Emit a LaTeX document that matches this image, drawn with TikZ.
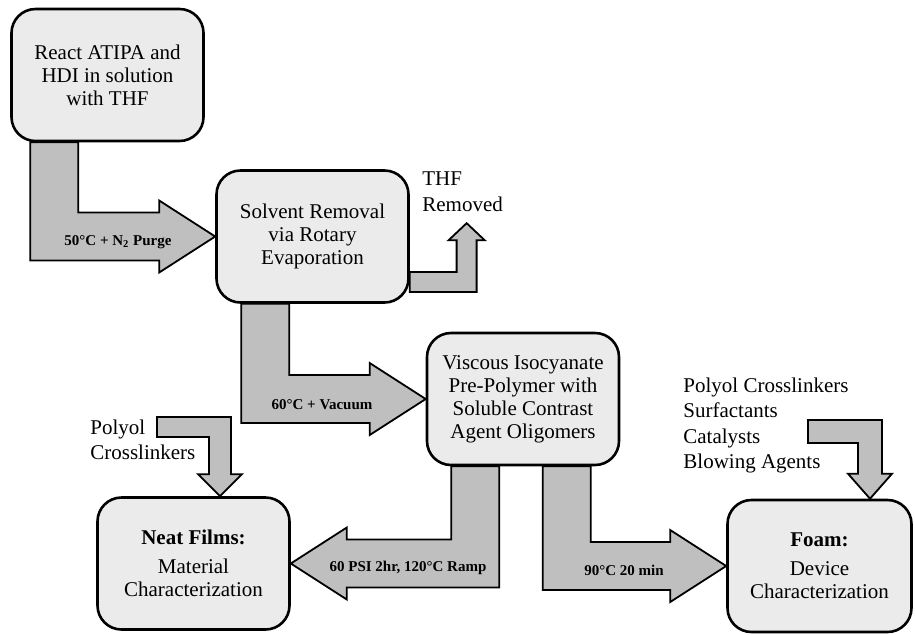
\documentclass[tikz,border=0pt]{standalone}
\usepackage{fontspec}
\setmainfont{Liberation Serif}
\usetikzlibrary{calc,backgrounds}
\pgfdeclarelayer{bg}
\pgfsetlayers{bg,main}

\begin{document}
\begin{tikzpicture}[
  x=0.5pt, y=-0.5pt, % one unit = one pixel of the 915x634 layout
  font=\fontsize{10.5}{11.5}\selectfont,
  box/.style   ={draw,line width=1.3pt,rounded corners=12pt,fill=gray!16,align=center,
                 minimum width=96pt,minimum height=66pt,inner sep=3pt},
  side/.style  ={align=left,inner sep=0pt,font=\fontsize{10.5}{12.8}\selectfont},
  lbl/.style   ={inner sep=0pt,font=\bfseries\fontsize{7.5}{9}\selectfont},
  blockarrow/.style={draw,line width=0.9pt,fill=gray!50,line join=miter}
]

\useasboundingbox (0,0) rectangle (915,634);

% ==================================================
% PROCESS BOXES
% ==================================================
\node[box] (react)   at (107.5,75)  {React ATIPA and\\ HDI in solution\\ with THF};
\node[box] (solvent) at (312.5,236.5) {Solvent Removal\\ via Rotary\\ Evaporation};
\node[box] (prepoly) at (523,399)   {Viscous Isocyanate\\ Pre-Polymer with\\ Soluble Contrast\\ Agent Oligomers};
\node[box] (films)   at (193.5,563.5) {\textbf{Neat Films:}\\[3pt] Material\\ Characterization};
\node[box, minimum width=92pt] (foam) at (819.5,566) {\textbf{Foam:}\\[3pt] Device\\ Characterization};

% side inputs / outputs
\node[side, anchor=west] (thf)     at (422,192) {THF\\ Removed};
\node[side, anchor=west] (polyolA) at (90,440)  {Polyol\\ Crosslinkers};
\node[side, anchor=west] (polyolB) at (683,425.5)
  {Polyol Crosslinkers\\ Surfactants\\ Catalysts\\ Blowing Agents};

% arrow end points
\coordinate (s1) at ($(react.south west)+(44,0)$);
\coordinate (s2) at ($(solvent.south west)+(50,0)$);
\coordinate (s3) at ($(prepoly.south west)+(49.5,0)$);
\coordinate (s4) at ($(prepoly.south east)+(-53.5,0)$);
\coordinate (thfstart) at ($(solvent.east)+(0,45.5)$);
\coordinate (thftip)   at ($(thf.south)+(4,11)$);
\coordinate (pAstart)  at ($(polyolA.west)+(67,-13)$);
\coordinate (pAtip)    at ($(films.north)+(26.5,0)$);
\coordinate (pBstart)  at (808,431.5);
\coordinate (pBtip)    at ($(foam.north)+(50.5,0)$);

% ==================================================
% BLOCK ARROWS (behind the boxes)
% ==================================================
\begin{pgfonlayer}{bg}
  \fill[white] (0,0) rectangle (915,634);
  % down, then right
  \path[blockarrow] let \p1=(s1), \p2=(solvent.west) in
    (\x1-12pt,\y1) -- (\x1-12pt,\y2-12pt) -- (\x2-28pt,\y2-12pt) -- (\x2-28pt,\y2-18pt)
    -- (\x2,\y2) -- (\x2-28pt,\y2+18pt) -- (\x2-28pt,\y2+12pt) -- (\x1+12pt,\y2+12pt)
    -- (\x1+12pt,\y1) -- cycle;
  \path[blockarrow] let \p1=(s2), \p2=(prepoly.west) in
    (\x1-12pt,\y1) -- (\x1-12pt,\y2-12pt) -- (\x2-28pt,\y2-12pt) -- (\x2-28pt,\y2-18pt)
    -- (\x2,\y2) -- (\x2-28pt,\y2+18pt) -- (\x2-28pt,\y2+12pt) -- (\x1+12pt,\y2+12pt)
    -- (\x1+12pt,\y1) -- cycle;
  \path[blockarrow] let \p1=(s4), \p2=(foam.west) in
    (\x1-12pt,\y1) -- (\x1-12pt,\y2-12pt) -- (\x2-28pt,\y2-12pt) -- (\x2-28pt,\y2-18pt)
    -- (\x2,\y2) -- (\x2-28pt,\y2+18pt) -- (\x2-28pt,\y2+12pt) -- (\x1+12pt,\y2+12pt)
    -- (\x1+12pt,\y1) -- cycle;
  % down, then left
  \path[blockarrow] let \p1=(s3), \p2=(films.east) in
    (\x1+12pt,\y1) -- (\x1+12pt,\y2-12pt) -- (\x2+28pt,\y2-12pt) -- (\x2+28pt,\y2-18pt)
    -- (\x2,\y2) -- (\x2+28pt,\y2+18pt) -- (\x2+28pt,\y2+12pt) -- (\x1-12pt,\y2+12pt)
    -- (\x1-12pt,\y1) -- cycle;

  % THF out: right, then up
  \path[blockarrow] let \p1=(thfstart), \p2=(thftip) in
    (\x1,\y1+5pt) -- (\x2-5pt,\y1+5pt) -- (\x2-5pt,\y2-8.5pt) -- (\x2-9pt,\y2-8.5pt)
    -- (\x2,\y2) -- (\x2+9pt,\y2-8.5pt) -- (\x2+5pt,\y2-8.5pt) -- (\x2+5pt,\y1-5pt)
    -- (\x1,\y1-5pt) -- cycle;
  % polyol in: right, then down
  \path[blockarrow] let \p1=(pAstart), \p2=(pAtip) in
    (\x1,\y1+5pt) -- (\x2+5.5pt,\y1+5pt) -- (\x2+5.5pt,\y2+11pt) -- (\x2+11pt,\y2+11pt)
    -- (\x2,\y2) -- (\x2-11pt,\y2+11pt) -- (\x2-5.5pt,\y2+11pt) -- (\x2-5.5pt,\y1-5pt)
    -- (\x1,\y1-5pt) -- cycle;
  \path[blockarrow] let \p1=(pBstart), \p2=(pBtip) in
    (\x1,\y1+5.75pt) -- (\x2+6pt,\y1+5.75pt) -- (\x2+6pt,\y2+12.5pt) -- (\x2+11pt,\y2+12.5pt)
    -- (\x2,\y2) -- (\x2-11pt,\y2+12.5pt) -- (\x2-6pt,\y2+12.5pt) -- (\x2-6pt,\y1-5.75pt)
    -- (\x1,\y1-5.75pt) -- cycle;
\end{pgfonlayer}

% arrow labels
\node[lbl] (l1) at (118,242) {50°C + N\textsubscript{2} Purge};
\node[lbl] (l2) at (322,405) {60°C + Vacuum};
\node[lbl] (l3) at (408,568) {60 PSI 2hr, 120°C Ramp};
\node[lbl] (l4) at (624,570) {90°C 20 min};

\end{tikzpicture}
\end{document}
